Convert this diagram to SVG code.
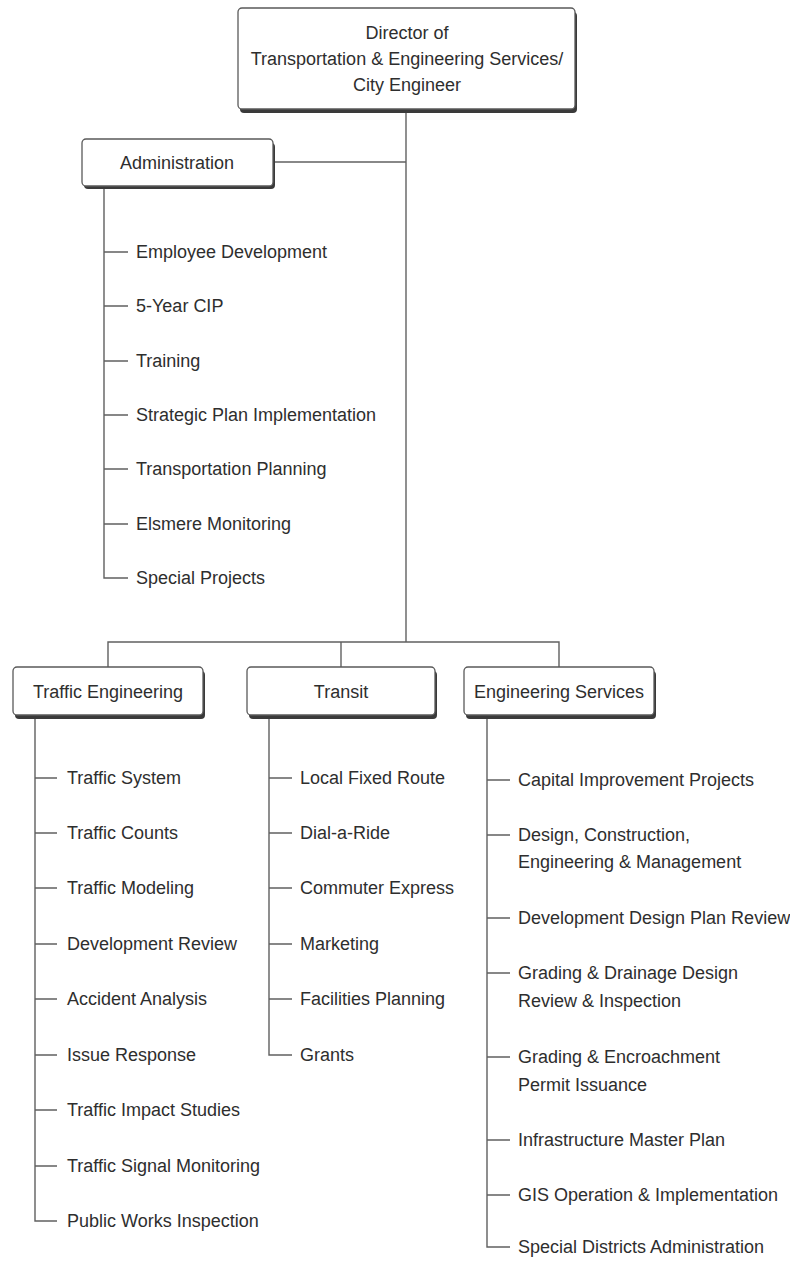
<svg xmlns="http://www.w3.org/2000/svg" width="790" height="1261" viewBox="0 0 790 1261">
<style>
.bg{fill:#ffffff}
.shadow{fill:#3a3a3a}
.box{fill:#ffffff;stroke:#5a5a5a;stroke-width:1.3}
.t{font-family:"Liberation Sans",Arial,sans-serif;font-size:18px;fill:#2e2e2e}
.c{text-anchor:middle}
.ln{stroke:#606060;stroke-width:1.4;fill:none}
</style>
<rect class="bg" x="0" y="0" width="790" height="1261"/>
<g id="connectors">
<path class="ln" d="M406 112 V642"/>
<path class="ln" d="M273 162 H406"/>
<path class="ln" d="M108 667 V642 H559 V667"/>
<path class="ln" d="M341 642 V667"/>
<path class="ln" d="M104 189 V578 H128"/>
<path class="ln" d="M104 252 H128 M104 306 H128 M104 361 H128 M104 415 H128 M104 469 H128 M104 524 H128"/>
<path class="ln" d="M35 719 V1221 H57"/>
<path class="ln" d="M35 778 H57 M35 833 H57 M35 888 H57 M35 944 H57 M35 999 H57 M35 1055 H57 M35 1110 H57 M35 1166 H57"/>
<path class="ln" d="M269 719 V1055 H292"/>
<path class="ln" d="M269 778 H292 M269 833 H292 M269 888 H292 M269 944 H292 M269 999 H292"/>
<path class="ln" d="M487 719 V1247 H510"/>
<path class="ln" d="M487 780 H510 M487 835 H510 M487 918 H510 M487 973 H510 M487 1057 H510 M487 1140 H510 M487 1195 H510"/>
</g>
<g id="director">
<rect class="shadow" x="240" y="12" width="337" height="101" rx="4"/>
<rect class="box" x="238" y="8" width="337" height="101" rx="4"/>
<text class="t c" x="407" y="39">Director of</text>
<text class="t c" x="407" y="65">Transportation &amp; Engineering Services/</text>
<text class="t c" x="407" y="91">City Engineer</text>
</g>
<g id="administration">
<rect class="shadow" x="84" y="143" width="191" height="46" rx="4"/>
<rect class="box" x="82" y="139" width="191" height="47" rx="4"/>
<text class="t c" x="177" y="169">Administration</text>
</g>
<g id="admin-items">
<text class="t" x="136" y="258">Employee Development</text>
<text class="t" x="136" y="312">5-Year CIP</text>
<text class="t" x="136" y="367">Training</text>
<text class="t" x="136" y="421">Strategic Plan Implementation</text>
<text class="t" x="136" y="475">Transportation Planning</text>
<text class="t" x="136" y="530">Elsmere Monitoring</text>
<text class="t" x="136" y="584">Special Projects</text>
</g>
<g id="traffic-engineering">
<rect class="shadow" x="15" y="671" width="190" height="48" rx="4"/>
<rect class="box" x="13" y="667" width="190" height="48" rx="4"/>
<text class="t c" x="108" y="698">Traffic Engineering</text>
</g>
<g id="traffic-items">
<text class="t" x="67" y="784">Traffic System</text>
<text class="t" x="67" y="839">Traffic Counts</text>
<text class="t" x="67" y="894">Traffic Modeling</text>
<text class="t" x="67" y="950">Development Review</text>
<text class="t" x="67" y="1005">Accident Analysis</text>
<text class="t" x="67" y="1061">Issue Response</text>
<text class="t" x="67" y="1116">Traffic Impact Studies</text>
<text class="t" x="67" y="1172">Traffic Signal Monitoring</text>
<text class="t" x="67" y="1227">Public Works Inspection</text>
</g>
<g id="transit">
<rect class="shadow" x="249" y="671" width="188" height="48" rx="4"/>
<rect class="box" x="247" y="667" width="188" height="48" rx="4"/>
<text class="t c" x="341" y="698">Transit</text>
</g>
<g id="transit-items">
<text class="t" x="300" y="784">Local Fixed Route</text>
<text class="t" x="300" y="839">Dial-a-Ride</text>
<text class="t" x="300" y="894">Commuter Express</text>
<text class="t" x="300" y="950">Marketing</text>
<text class="t" x="300" y="1005">Facilities Planning</text>
<text class="t" x="300" y="1061">Grants</text>
</g>
<g id="engineering-services">
<rect class="shadow" x="466" y="671" width="190" height="48" rx="4"/>
<rect class="box" x="464" y="667" width="190" height="48" rx="4"/>
<text class="t c" x="559" y="698">Engineering Services</text>
</g>
<g id="es-items">
<text class="t" x="518" y="786">Capital Improvement Projects</text>
<text class="t" x="518" y="841">Design, Construction,</text>
<text class="t" x="518" y="868">Engineering &amp; Management</text>
<text class="t" x="518" y="924">Development Design Plan Review</text>
<text class="t" x="518" y="979">Grading &amp; Drainage Design</text>
<text class="t" x="518" y="1007">Review &amp; Inspection</text>
<text class="t" x="518" y="1063">Grading &amp; Encroachment</text>
<text class="t" x="518" y="1091">Permit Issuance</text>
<text class="t" x="518" y="1146">Infrastructure Master Plan</text>
<text class="t" x="518" y="1201">GIS Operation &amp; Implementation</text>
<text class="t" x="518" y="1253">Special Districts Administration</text>
</g>
</svg>
